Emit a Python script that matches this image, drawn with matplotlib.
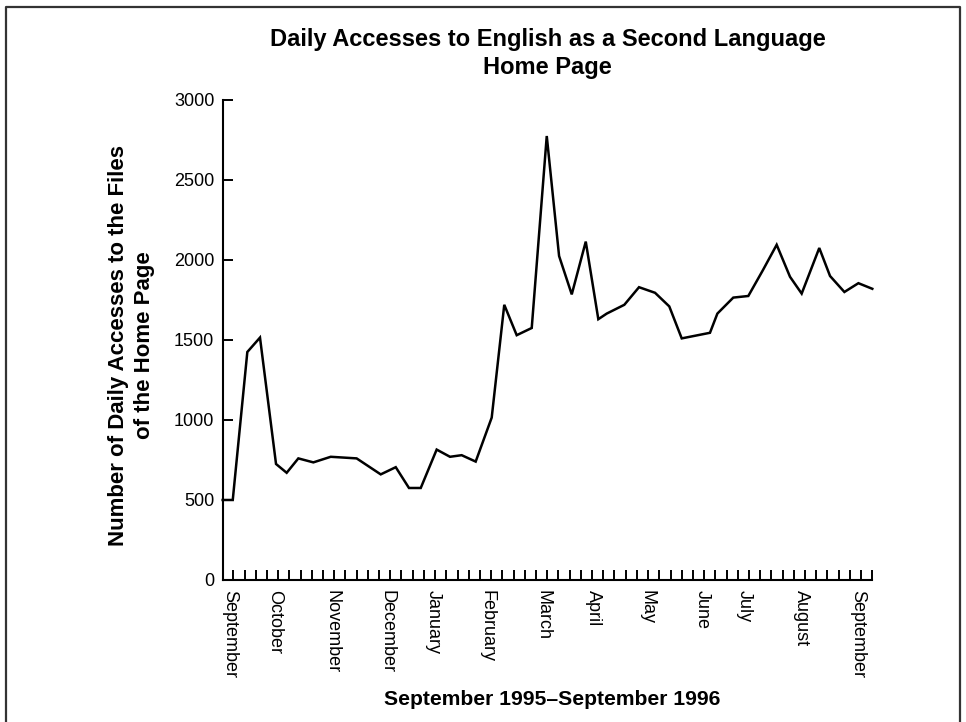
#Import the required librarys
import matplotlib
matplotlib.use('Agg')
import matplotlib.pyplot as plt
from matplotlib.lines import Line2D

plt.rcParams['font.family'] = ['Liberation Sans', 'DejaVu Sans']

#Week positions of each reading and the daily access counts
weeks = [-0.95, -0.05, 1.25, 2.38, 3.81, 4.76, 5.8, 7.14, 8.69, 11.0, 13.15, 14.49,
         15.67, 16.72, 18.14, 19.33, 20.37, 21.62, 23.05, 24.17, 25.28, 26.62, 27.96,
         29.06, 30.19, 31.44, 32.56, 33.31, 34.88, 36.19, 37.62, 38.89, 40.0, 42.52,
         43.18, 44.6, 45.94, 47.23, 48.47, 49.66, 50.7, 52.27, 53.23, 54.51, 55.76, 57.0]
accesses = [500, 500, 1425, 1515, 725, 670, 760, 735, 770, 760, 660, 705,
            575, 575, 815, 770, 780, 740, 1015, 1720, 1530, 1575, 2775,
            2025, 1785, 2115, 1630, 1665, 1720, 1830, 1795, 1710, 1510, 1545,
            1665, 1765, 1775, 1935, 2095, 1895, 1790, 2075, 1900, 1800, 1855, 1820]

#Month names and where they sit along the week axis
months = ['September', 'October', 'November', 'December', 'January', 'February',
          'March', 'April', 'May', 'June', 'July', 'August', 'September']
month_pos = [-0.3, 3.7, 8.77, 13.68, 17.8, 22.6, 27.6, 32.1, 36.9, 41.8, 45.6, 50.7, 55.7]

week_ticks = list(range(0, 58))
y_ticks = [0, 500, 1000, 1500, 2000, 2500, 3000]

fig = plt.figure(figsize=(9.66, 7.22), dpi=100)
ax = fig.add_axes([0.2305, 0.1967, 0.6725, 0.6648])

#Plot the access counts
ax.plot(weeks, accesses, color='black', linewidth=1.8, solid_joinstyle='miter', clip_on=False)

ax.set_xlim(-0.95, 57)
ax.set_ylim(0, 3000)

#Weekly ticks along the bottom, pointing into the plot
ax.set_xticks(week_ticks)
ax.set_xticklabels([])
ax.tick_params(axis='x', which='major', direction='in', length=7.2, width=1.4)

#Month labels on minor ticks with no tick mark
ax.set_xticks(month_pos, minor=True)
ax.set_xticklabels(months, minor=True, rotation=-90, fontsize=13, va='top', ha='center')
ax.tick_params(axis='x', which='minor', length=0, pad=7)

ax.set_yticks(y_ticks)
ax.set_yticklabels([str(v) for v in y_ticks], fontsize=13)
ax.tick_params(axis='y', direction='in', length=7.2, width=1.4, pad=6)

#Only the left and bottom axis lines
ax.spines['top'].set_visible(False)
ax.spines['right'].set_visible(False)
ax.spines['left'].set_linewidth(1.5)
ax.spines['bottom'].set_linewidth(1.5)

#Titles and labels
fig.text(0.5668, 0.926, 'Daily Accesses to English as a Second Language\nHome Page',
         ha='center', va='center', fontsize=17, fontweight='bold', linespacing=1.3)
fig.text(0.136, 0.522, 'Number of Daily Accesses to the Files\nof the Home Page',
         ha='center', va='center', rotation=90, fontsize=16, fontweight='bold',
         multialignment='center', linespacing=1.35)
fig.text(0.5714, 0.031, 'September 1995\u2013September 1996', ha='center', va='center',
         fontsize=15.2, fontweight='bold')

#Frame around the figure (bottom edge cut off)
frame_x = [6 / 966, 6 / 966, 960 / 966, 960 / 966]
frame_y = [0.0, 1 - 7 / 722, 1 - 7 / 722, 0.0]
fig.add_artist(Line2D(frame_x, frame_y, transform=fig.transFigure, color='#333333', linewidth=1.6))

fig.savefig('out.png', dpi=100)
